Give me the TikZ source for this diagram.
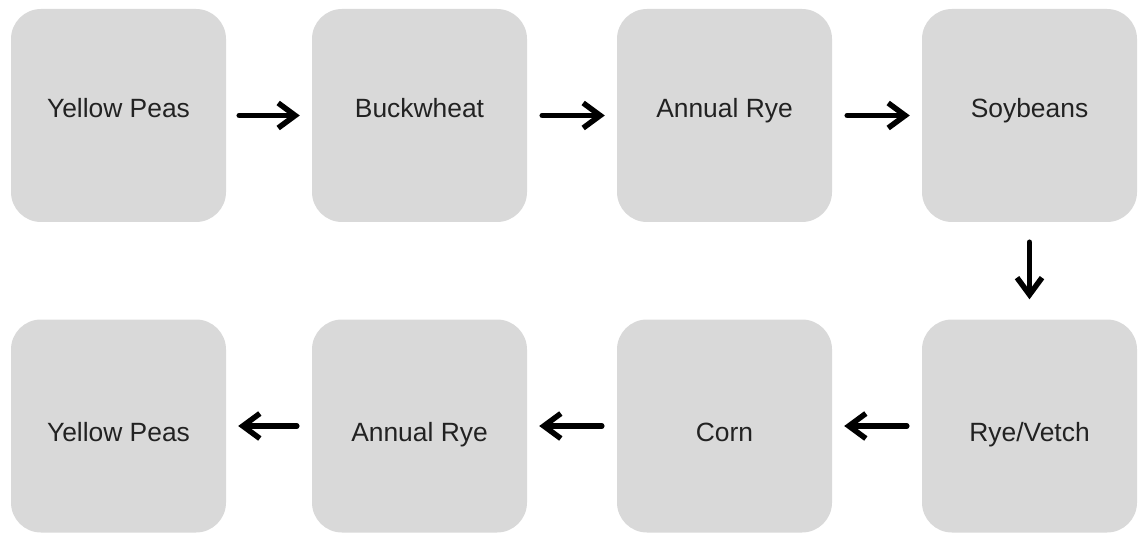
\documentclass[tikz,border=0pt]{standalone}
\usepackage{fontspec}
\setmainfont{Liberation Sans}
\usetikzlibrary{arrows.meta}
\definecolor{boxgray}{RGB}{217,217,217}
\definecolor{txt}{RGB}{34,34,34}
\tikzset{
  cropbox/.style={fill=boxgray, draw=none, rounded corners=30pt, minimum width=215pt, minimum height=213pt, inner sep=0pt, text=txt, font=\fontsize{26.4}{31}\selectfont},
  toprow/.style={cropbox, text height=18.5pt, text depth=14pt},
  botrow/.style={cropbox, text height=30.5pt, text depth=0pt},
  handarrow/.style={line width=5.5pt, line cap=round, -{Straight Barb[length=17pt,width=25pt,line width=5.5pt]}}
}
\begin{document}
\begin{tikzpicture}[x=1pt,y=-1pt]
\useasboundingbox (0,0) rectangle (1142,534);
\node[toprow] (a) at (118.5,115.5) {Yellow Peas};
\node[toprow] (b) at (419.5,115.5) {Buckwheat};
\node[toprow] (c) at (724.5,115.5) {Annual Rye};
\node[toprow] (d) at (1029.5,115.5) {Soybeans};
\node[botrow] (e) at (1029.5,426) {Rye/Vetch};
\node[botrow] (f) at (724.5,426) {Corn};
\node[botrow] (g) at (419.5,426) {Annual Rye};
\node[botrow] (h) at (118.5,426) {Yellow Peas};
\draw[handarrow, shorten <=13pt, shorten >=12pt] (a) -- (b);
\draw[handarrow, shorten <=15pt, shorten >=12pt] (b) -- (c);
\draw[handarrow, shorten <=15pt, shorten >=12pt] (c) -- (d);
\draw[handarrow, shorten <=20pt, shorten >=20pt] (d) -- (e);
\draw[handarrow, shorten <=15pt, shorten >=12pt] (e) -- (f);
\draw[handarrow, shorten <=15pt, shorten >=12pt] (f) -- (g);
\draw[handarrow, shorten <=15pt, shorten >=12pt] (g) -- (h);
\end{tikzpicture}
\end{document}
